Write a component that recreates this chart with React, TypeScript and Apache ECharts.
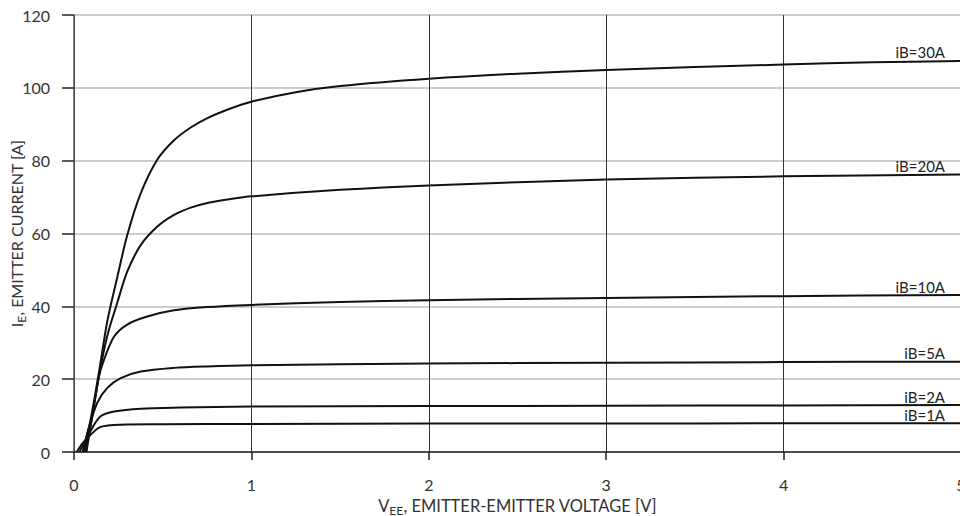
import React, { useEffect, useRef } from "react";
import * as echarts from "echarts";

const yTicks = [0, 20, 40, 60, 80, 100, 120];
const xTicks = [0, 1, 2, 3, 4, 5];

const curveNames = ["iB=30A", "iB=20A", "iB=10A", "iB=5A", "iB=2A", "iB=1A"];

const v30 = [0.05, 0.094, 0.141, 0.188, 0.244, 0.3, 0.376, 0.47, 0.564, 0.658, 0.752, 0.875, 1, 1.25, 1.5, 2, 2.5, 3, 3.5, 4, 4.5, 5];
const i30 = [0, 9, 22, 36, 48, 59.5, 71, 80.3, 85.6, 89.1, 91.7, 94.2, 96.2, 98.8, 100.5, 102.5, 103.9, 104.9, 105.7, 106.4, 107, 107.4];

const v20 = [0.06, 0.1, 0.141, 0.188, 0.244, 0.3, 0.376, 0.47, 0.564, 0.658, 0.752, 0.875, 1, 1.5, 2, 3, 4, 5];
const i20 = [0, 9, 21, 32, 41, 49.5, 56.8, 61.9, 65.1, 67.1, 68.4, 69.4, 70.2, 72, 73.2, 74.8, 75.7, 76.2];

const v10 = [0.07, 0.1, 0.141, 0.169, 0.226, 0.3, 0.413, 0.564, 0.75, 1, 1.5, 2, 3, 4, 5];
const i10 = [0, 9, 20.8, 25.3, 31.7, 35, 37.2, 38.9, 39.8, 40.4, 41.2, 41.7, 42.3, 42.8, 43.1];

const v5 = [0.05, 0.08, 0.131, 0.188, 0.263, 0.376, 0.564, 0.75, 1, 2, 3, 4, 5];
const i5 = [0, 6, 13.5, 17.6, 20.3, 22.1, 23.1, 23.5, 23.8, 24.3, 24.5, 24.7, 24.8];

const v2 = [0.03, 0.07, 0.103, 0.15, 0.226, 0.376, 0.6, 1, 2, 3, 4, 5];
const i2 = [0, 3.5, 6.6, 9.8, 11.1, 11.9, 12.2, 12.5, 12.6, 12.7, 12.8, 12.9];

const v1 = [0.015, 0.05, 0.094, 0.15, 0.263, 0.5, 1, 2, 3, 4, 5];
const i1 = [0, 2.5, 4.75, 6.9, 7.5, 7.6, 7.7, 7.8, 7.8, 7.9, 7.9];

const curveV = [v30, v20, v10, v5, v2, v1];
const curveI = [i30, i20, i10, i5, i2, i1];

const FONT = "Lato, 'Open Sans', sans-serif";

export default function App() {
  const ref = useRef<HTMLDivElement>(null);
  useEffect(() => {
    if (!ref.current) return;
    const chart = echarts.init(ref.current, undefined, { renderer: "svg" });
    const series = curveNames.map((name, k) => {
      const vs = curveV[k];
      const is = curveI[k];
      const last = vs.length - 1;
      return {
        name,
        type: "line",
        data: vs.map((v, j) => [v, is[j]]),
        smooth: 0.3,
        showSymbol: false,
        symbol: "none",
        clip: false,
        lineStyle: { color: "#111", width: 2 },
        z: 5,
        markPoint: {
          symbol: "circle",
          symbolSize: 0,
          silent: true,
          data: [{ coord: [vs[last], is[last]], value: name }],
          label: {
            show: true,
            formatter: name,
            position: "top",
            align: "right",
            distance: 3,
            offset: [-16, 2],
            fontFamily: FONT,
            fontSize: 15,
            color: "#222",
          },
        },
      };
    });
    chart.setOption({
      animation: false,
      backgroundColor: "#fff",
      grid: { left: 74, right: -1, top: 15, bottom: 64, containLabel: false, outerBoundsMode: "none" },
      xAxis: {
        type: "value",
        min: 0,
        max: 5,
        interval: 1,
        name: "{a|V}{b|EE}{a|, EMITTER-EMITTER VOLTAGE [V]}",
        nameLocation: "middle",
        nameGap: 43,
        nameMoveOverlap: false,
        nameTextStyle: {
          rich: {
            a: { fontFamily: FONT, fontSize: 16.5, color: "#333" },
            b: { fontFamily: FONT, fontSize: 12, color: "#333", padding: [9, 0, 0, 0] },
          },
        },
        axisLine: { show: true, lineStyle: { color: "#222", width: 1.5 } },
        axisTick: { show: true, length: 8, lineStyle: { color: "#222", width: 1.5 } },
        axisLabel: {
          margin: 24,
          fontFamily: FONT,
          fontSize: 16,
          color: "#333",
          showMaxLabel: true,
          formatter: (val: number) => (xTicks.includes(val) ? String(val) : ""),
        },
        splitLine: { show: true, lineStyle: { color: "#333", width: 1 } },
      },
      yAxis: {
        type: "value",
        min: 0,
        max: 120,
        interval: 20,
        name: "{a|I}{b|E}{a|, EMITTER CURRENT [A]}",
        nameLocation: "middle",
        nameGap: 47,
        nameMoveOverlap: false,
        nameRotate: 90,
        nameTextStyle: {
          rich: {
            a: { fontFamily: FONT, fontSize: 16, color: "#333" },
            b: { fontFamily: FONT, fontSize: 12, color: "#333", padding: [9, 0, 0, 0] },
          },
        },
        axisLine: { show: true, lineStyle: { color: "#555", width: 1.5 } },
        axisTick: { show: true, length: 12, lineStyle: { color: "#222", width: 1.5 } },
        axisLabel: {
          margin: 24,
          fontFamily: FONT,
          fontSize: 16,
          color: "#333",
          formatter: (val: number) => (yTicks.includes(val) ? String(val) : ""),
        },
        splitLine: { show: true, lineStyle: { color: "#bdbdbd", width: 1.5 } },
      },
      series,
    });
    return () => chart.dispose();
  }, []);
  return (
    <div
      ref={ref}
      style={{ position: "fixed", left: 0, top: 0, width: 960, height: 516, background: "#fff" }}
    />
  );
}
